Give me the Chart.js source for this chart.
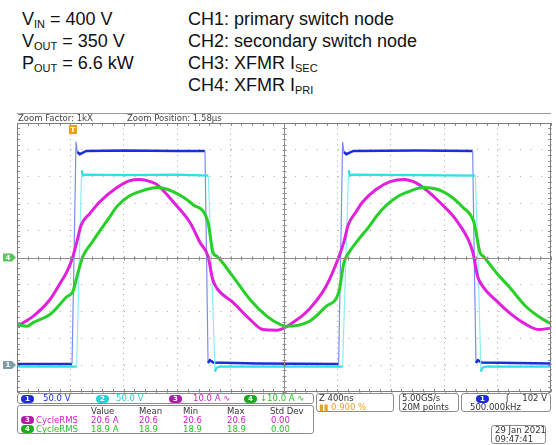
<!DOCTYPE html>
<html>
<head>
<meta charset="utf-8">
<script src="https://cdn.jsdelivr.net/npm/chart.js@4.4.0/dist/chart.umd.min.js"></script>
<style>
  html, body { margin: 0; padding: 0; background: #fff; }
  body { width: 556px; height: 445px; position: relative; overflow: hidden; font-family: 'Liberation Sans', Arial, sans-serif; }
  .hdr { position: absolute; font-size: 18px; color: #111; white-space: nowrap; line-height: 22px; }
  .hdr sub { font-size: 11px; vertical-align: -3px; line-height: 0; }
  .scope { font-family: 'DejaVu Sans', sans-serif; font-size: 8.5px; white-space: nowrap; }
  .box { position: absolute; border: 1px solid #8c8c8c; border-radius: 3px; background: #fff; box-sizing: border-box; }
  .t { position: absolute; line-height: 9px; }
  .pill { position: absolute; height: 8px; width: 13px; border-radius: 4px; color: #fff; font-size: 7px; line-height: 8px; text-align: center; font-weight: bold; }
  #zoomBar { position: absolute; left: 17px; top: 113px; width: 534px; height: 10px; border-top: 1px solid #9a9a9a; box-sizing: border-box; color: #444; }
  #wrap { position: absolute; left: 0; top: 113px; width: 556px; height: 284px; }
</style>
</head>
<body>

<div class="hdr" style="left:22px; top:8px;">V<sub>IN</sub> = 400 V<br>V<sub>OUT</sub> = 350 V<br>P<sub>OUT</sub> = 6.6 kW</div>
<div class="hdr" style="left:188px; top:8px;">CH1: primary switch node<br>CH2: secondary switch node<br>CH3: XFMR I<sub>SEC</sub><br>CH4: XFMR I<sub>PRI</sub></div>

<div id="wrap"><canvas id="scope"></canvas></div>

<div id="zoomBar" class="scope">
  <span class="t" style="left:1px; top:0px;">Zoom Factor: 1kX</span>
  <span class="t" style="left:110px; top:0px;">Zoom Position: 1.58µs</span>
</div>

<!-- channel settings row -->
<div class="box scope" style="left:17px; top:393px; width:297px; height:11px;">
  <span class="pill" style="left:3px; top:1px; background:#1b2fd8;">1</span>
  <span class="t" style="left:25px; top:0px; color:#1b2fd8;">50.0 V</span>
  <span class="pill" style="left:78px; top:1px; background:#22d3dd;">2</span>
  <span class="t" style="left:98px; top:0px; color:#22d3dd;">50.0 V</span>
  <span class="pill" style="left:151px; top:1px; background:#b01aa8;">3</span>
  <span class="t" style="left:175px; top:0px; color:#d11ccb;">10.0 A ∿</span>
  <span class="pill" style="left:226px; top:1px; background:#1faa1f;">4</span>
  <span class="t" style="left:242px; top:0px; color:#22c422;">↓10.0 A ∿</span>
</div>
<div class="box scope" style="left:316px; top:393px; width:78px; height:19px;">
  <span class="t" style="left:2px; top:0px; color:#333;">Z 400ns</span>
  <span class="t" style="left:2px; top:9px; color:#f0a020;">▮▮ 0.900 %</span>
</div>
<div class="box scope" style="left:399px; top:393px; width:60px; height:19px; color:#333;">
  <span class="t" style="left:2px; top:0px;">5.00GS/s</span>
  <span class="t" style="left:2px; top:9px;">20M points</span>
</div>
<div class="box scope" style="left:461px; top:393px; width:90px; height:19px; color:#333;">
  <span class="pill" style="left:14px; top:1px; background:#1b2fd8;">1</span>
  <span class="t" style="left:44px; top:0px;">ʃ</span>
  <span class="t" style="right:3px; top:0px;">102 V</span>
  <span class="t" style="left:8px; top:9px;">500.000kHz</span>
</div>

<!-- measurements -->
<div class="box scope" style="left:17px; top:405px; width:297px; height:29px;">
  <span class="t" style="left:73px; top:1px; color:#333;">Value</span>
  <span class="t" style="left:121px; top:1px; color:#333;">Mean</span>
  <span class="t" style="left:165px; top:1px; color:#333;">Min</span>
  <span class="t" style="left:209px; top:1px; color:#333;">Max</span>
  <span class="t" style="left:252px; top:1px; color:#333;">Std Dev</span>
  <span class="pill" style="left:3px; top:10px; background:#b01aa8;">3</span>
  <span class="t" style="left:18px; top:10px; color:#d11ccb;">CycleRMS</span>
  <span class="t" style="left:73px; top:10px; color:#d11ccb;">20.6 A</span>
  <span class="t" style="left:121px; top:10px; color:#d11ccb;">20.6</span>
  <span class="t" style="left:165px; top:10px; color:#d11ccb;">20.6</span>
  <span class="t" style="left:209px; top:10px; color:#d11ccb;">20.6</span>
  <span class="t" style="left:253px; top:10px; color:#d11ccb;">0.00</span>
  <span class="pill" style="left:3px; top:19px; background:#1faa1f;">4</span>
  <span class="t" style="left:18px; top:19px; color:#22c422;">CycleRMS</span>
  <span class="t" style="left:73px; top:19px; color:#22c422;">18.9 A</span>
  <span class="t" style="left:121px; top:19px; color:#22c422;">18.9</span>
  <span class="t" style="left:165px; top:19px; color:#22c422;">18.9</span>
  <span class="t" style="left:209px; top:19px; color:#22c422;">18.9</span>
  <span class="t" style="left:253px; top:19px; color:#22c422;">0.00</span>
</div>
<div class="box scope" style="left:491px; top:425px; width:55px; height:19px; color:#333;">
  <span class="t" style="left:3px; top:0px;">29 Jan 2021</span>
  <span class="t" style="left:3px; top:9px;">09:47:41</span>
</div>

<script>
// ─── Data (time in ns, 400 ns/div) ─────────────────────
const ch1Time = [0, 412, 427, 442, 452, 470, 520, 800, 1200, 1408, 1420, 1431, 1445, 1470, 1800,
                 2409, 2424, 2439, 2449, 2467, 2520, 3000, 3413, 3425, 3438, 3452, 3480, 4000];
const ch1Volt = [2, 2, 200, 415, 396, 392, 398, 399, 398, 398, 200, 4, 9, 5, 3,
                 2, 200, 415, 396, 392, 398, 399, 398, 200, 4, 9, 5, 3];

const ch2Time = [0, 447, 465, 484, 495, 510, 800, 1200, 1433, 1458, 1483, 1495, 1520,
                 2439, 2461, 2484, 2495, 2510, 3000, 3433, 3455, 3475, 3485, 3510, 4000];
const ch2Volt = [-3, -3, 180, 362, 352, 354, 353, 354, 352, 180, -12, -5, -3,
                 -3, 180, 362, 352, 354, 353, 352, 180, -12, -5, -3, -3];

const ch3Time = [0, 120, 247, 330, 375, 419, 449, 480, 547, 622, 749, 840, 921, 1000, 1049, 1168, 1296, 1371, 1431,
                 1465, 1498, 1618, 1745, 1843, 1947, 2067, 2187, 2314, 2412, 2450, 2480, 2540, 2592, 2689,
                 2800, 2899, 2960, 3011, 3161, 3303, 3415, 3450, 3490, 3600, 3685, 3800, 3910, 4000];
const ch3Amp  = [-25.6, -21.9, -15.6, -9.0, -5.2, 0.4, 6.0, 12.0, 16.4, 20.8, 26.0, 28.5, 29.0, 28.2, 27.1, 20.8, 13.0, 5.6, 0.4,
                 -8.0, -11.5, -16.7, -23.0, -26.8, -27.0, -24.2, -19.3, -10.8, 0.4, 6.0, 12.0, 17.0, 20.8, 25.3,
                 28.3, 29.0, 28.4, 27.1, 20.8, 13.0, 1.9, -7.0, -10.8, -16.5, -20.4, -24.5, -26.8, -26.2];

const ch4Time = [0, 75, 120, 247, 375, 419, 457, 494, 560, 622, 697, 749, 830, 921, 1049, 1168, 1318, 1431, 1468, 1498,
                 1618, 1745, 1873, 1970, 2015, 2187, 2314, 2412, 2449, 2487, 2560, 2637, 2700, 2764, 2850, 2936, 3041,
                 3191, 3341, 3423, 3468, 3498, 3600, 3685, 3812, 3940, 4000];
const ch4Amp  = [-24.9, -25.6, -24.2, -21.2, -14.5, -12.6, -5.6, 0.4, 5.5, 10.0, 15.3, 19.0, 22.5, 24.5, 26.0, 24.5, 19.7, 13.0, 1.9, 0.4,
                 -7.1, -15.6, -21.9, -24.9, -25.6, -23.8, -18.2, -12.6, -1.9, 1.9, 6.8, 11.5, 15.8, 19.3, 22.6, 24.5, 26.0,
                 24.5, 18.6, 13.0, 1.9, 0.2, -6.2, -10.8, -18.2, -23.0, -24.6];

const triggerTime = 419;

// ─── Colours ───────────────────────────────────────────
const C = {
    ch1: '#1b2fd8',
    ch1Edge: '#7d8cf0',
    ch2: '#2fe0e8',
    ch2Edge: '#8beef2',
    ch3: '#e21fdc',
    ch4: '#26d026',
    grid: '#a9a9a9',
    frame: '#7d7d7d',
    axis: '#8f8f8f'
};

const pts = (xs, ys) => xs.map((x, i) => ({ x, y: ys[i] }));

// switching edges are drawn thin and pale, like a scope's low-intensity trace
const steep = ctx => Math.abs(ctx.p1.y - ctx.p0.y) > 4 * Math.abs(ctx.p1.x - ctx.p0.x);
const edgeStyle = (normal, edge) => ({
    borderColor: ctx => steep(ctx) ? edge : normal,
    borderWidth: ctx => steep(ctx) ? 1.2 : undefined
});

// frame, centre cross, minor ticks and channel markers
const scopeDecor = {
    id: 'scopeDecor',
    afterDatasetsDraw(chart) {
        const { ctx, chartArea: a, scales } = chart;
        const x = scales.x, yA = scales.yA, yV = scales.yV;
        ctx.save();
        ctx.lineWidth = 1;

        // centre cross
        const cx = Math.round(x.getPixelForValue(2000)) + 0.5;
        const cy = Math.round(yA.getPixelForValue(0)) + 0.5;
        ctx.strokeStyle = C.axis;
        ctx.beginPath();
        ctx.moveTo(cx, a.top); ctx.lineTo(cx, a.bottom);
        ctx.moveTo(a.left, cy); ctx.lineTo(a.right, cy);
        ctx.stroke();

        // minor ticks
        ctx.beginPath();
        for (let t = 0; t <= 4000; t += 80) {
            const px = Math.round(x.getPixelForValue(t)) + 0.5;
            ctx.moveTo(px, a.top); ctx.lineTo(px, a.top + 3);
            ctx.moveTo(px, a.bottom); ctx.lineTo(px, a.bottom - 3);
            ctx.moveTo(px, cy - 2); ctx.lineTo(px, cy + 2);
        }
        for (let v = -50; v <= 50; v += 2) {
            const py = Math.round(yA.getPixelForValue(v)) + 0.5;
            ctx.moveTo(a.left, py); ctx.lineTo(a.left + 3, py);
            ctx.moveTo(a.right, py); ctx.lineTo(a.right - 3, py);
            ctx.moveTo(cx - 2, py); ctx.lineTo(cx + 2, py);
        }
        ctx.stroke();

        // frame
        ctx.strokeStyle = C.frame;
        ctx.strokeRect(Math.round(a.left) + 0.5, Math.round(a.top) + 0.5,
                       Math.round(a.right - a.left) - 1, Math.round(a.bottom - a.top) - 1);

        // channel ground markers on the left
        const marker = (py, fill, label) => {
            ctx.fillStyle = fill;
            ctx.beginPath();
            ctx.moveTo(3, py - 4); ctx.lineTo(12, py - 4); ctx.lineTo(16, py);
            ctx.lineTo(12, py + 4); ctx.lineTo(3, py + 4); ctx.closePath();
            ctx.fill();
            ctx.fillStyle = '#fff';
            ctx.font = 'bold 7px DejaVu Sans';
            ctx.textAlign = 'center'; ctx.textBaseline = 'middle';
            ctx.fillText(label, 8, py + 0.5);
        };
        marker(yV.getPixelForValue(0), '#7f9fa8', '1');
        marker(yA.getPixelForValue(0), '#5cc65c', '4');

        // trigger marker
        const tx = x.getPixelForValue(triggerTime);
        ctx.fillStyle = '#f29a1e';
        ctx.beginPath();
        ctx.moveTo(tx - 4, a.top + 2); ctx.lineTo(tx + 4, a.top + 2);
        ctx.lineTo(tx + 4, a.top + 11); ctx.lineTo(tx - 4, a.top + 11);
        ctx.closePath(); ctx.fill();
        ctx.fillStyle = '#fff';
        ctx.font = 'bold 7px DejaVu Sans';
        ctx.fillText('T', tx, a.top + 7);
        ctx.restore();
    }
};

new Chart(document.getElementById('scope').getContext('2d'), {
    type: 'line',
    data: {
        datasets: [
            { label: 'CH4', data: pts(ch4Time, ch4Amp), yAxisID: 'yA', borderColor: C.ch4,
              borderWidth: 3, cubicInterpolationMode: 'monotone', order: 1 },
            { label: 'CH3', data: pts(ch3Time, ch3Amp), yAxisID: 'yA', borderColor: C.ch3,
              borderWidth: 3, cubicInterpolationMode: 'monotone', order: 2 },
            { label: 'CH2', data: pts(ch2Time, ch2Volt), yAxisID: 'yV', borderColor: C.ch2,
              borderWidth: 2.2, tension: 0, order: 3, segment: edgeStyle(C.ch2, C.ch2Edge) },
            { label: 'CH1', data: pts(ch1Time, ch1Volt), yAxisID: 'yV', borderColor: C.ch1,
              borderWidth: 2.5, tension: 0, order: 4, segment: edgeStyle(C.ch1, C.ch1Edge) }
        ]
    },
    options: {
        responsive: true,
        maintainAspectRatio: false,
        animation: false,
        layout: { padding: { left: 17, right: 5, top: 10, bottom: 5 } },
        elements: { point: { radius: 0 } },
        plugins: { legend: { display: false }, tooltip: { enabled: false } },
        scales: {
            x: {
                type: 'linear', min: 0, max: 4000,
                ticks: { display: false, stepSize: 400 },
                grid: { color: C.grid, drawTicks: false },
                border: { display: false, dash: [1, 4.35] }
            },
            yA: {
                position: 'left', min: -50, max: 50,
                ticks: { display: false, stepSize: 10 },
                grid: { color: C.grid, drawTicks: false },
                border: { display: false, dash: [1, 9.7] }
            },
            yV: {
                display: false, min: -50, max: 450
            }
        }
    },
    plugins: [scopeDecor]
});
</script>
</body>
</html>
